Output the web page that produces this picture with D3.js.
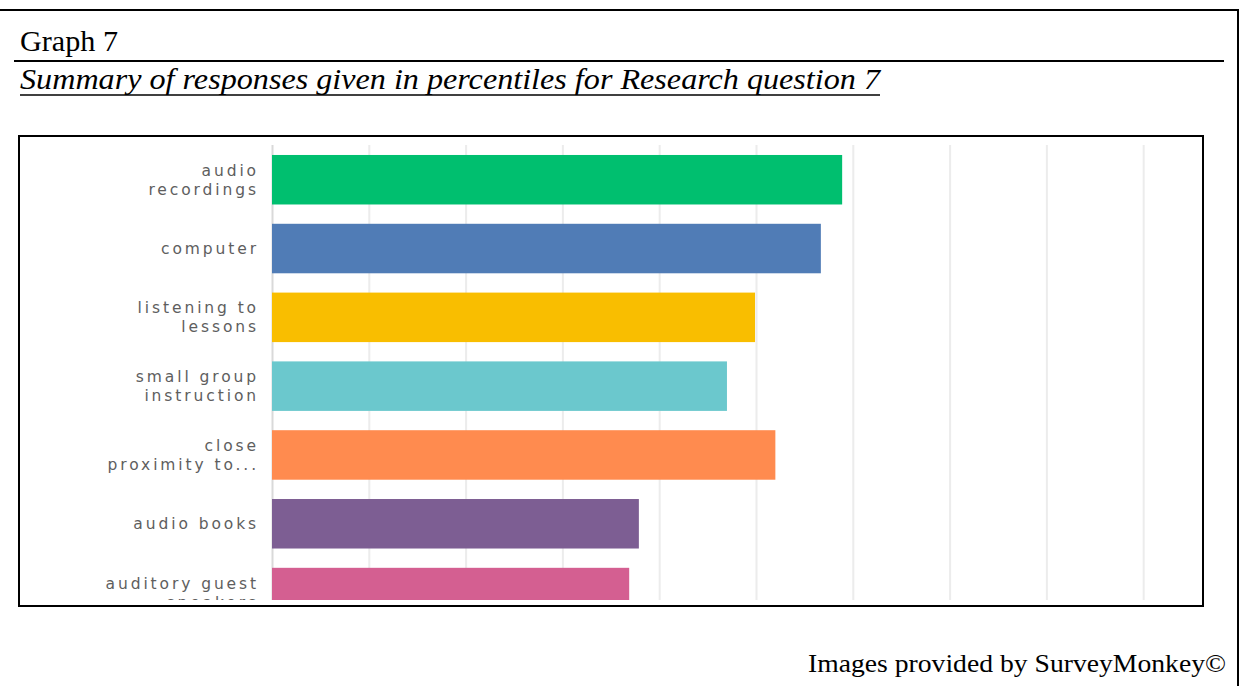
<!DOCTYPE html>
<html>
<head>
<meta charset="utf-8">
<script src="https://cdn.jsdelivr.net/npm/d3@7"></script>
<style>
  html, body { margin: 0; padding: 0; background: #fff; }
  svg { display: block; }
</style>
</head>
<body>
<svg id="chart" width="1243" height="686"></svg>
<script>
// ---- data ----
const categories = [
  ["audio", "recordings"],
  ["computer"],
  ["listening to", "lessons"],
  ["small group", "instruction"],
  ["close", "proximity to..."],
  ["audio books"],
  ["auditory guest", "speakers"]
];
const values = [58.9, 56.7, 49.9, 47.0, 52.0, 37.9, 36.9];
const colors = ["#00bf6f", "#507cb6", "#f9be00", "#6bc8cd", "#ff8b4f", "#7d5e93", "#d45f91"];
const xTicks = [0, 10, 20, 30, 40, 50, 60, 70, 80, 90, 100];

const graphLabel = "Graph 7";
const titleText = "Summary of responses given in percentiles for Research question 7";
const footerText = "Images provided by SurveyMonkey\u00A9";

const svg = d3.select("#chart");

// ---- outer document frame ----
svg.append("line").attr("x1", 0).attr("x2", 1239).attr("y1", 10).attr("y2", 10)
  .attr("stroke", "#000").attr("stroke-width", 2);
svg.append("line").attr("x1", 1238).attr("x2", 1238).attr("y1", 9).attr("y2", 686)
  .attr("stroke", "#000").attr("stroke-width", 2);

svg.append("text").attr("x", 20).attr("y", 51)
  .attr("font-family", "'Liberation Serif', 'Times New Roman', serif")
  .attr("font-size", 29).attr("fill", "#000")
  .attr("textLength", 98).attr("lengthAdjust", "spacingAndGlyphs")
  .text(graphLabel);
svg.append("line").attr("x1", 14).attr("x2", 1224).attr("y1", 61).attr("y2", 61)
  .attr("stroke", "#000").attr("stroke-width", 2);

svg.append("text").attr("x", 20).attr("y", 89)
  .attr("font-family", "'Liberation Serif', 'Times New Roman', serif")
  .attr("font-style", "italic")
  .attr("font-size", 29).attr("fill", "#000")
  .attr("textLength", 860).attr("lengthAdjust", "spacingAndGlyphs")
  .text(titleText);
svg.append("line").attr("x1", 20).attr("x2", 880).attr("y1", 95).attr("y2", 95)
  .attr("stroke", "#000").attr("stroke-width", 1.5);

svg.append("text").attr("x", 1226).attr("y", 672)
  .attr("text-anchor", "end")
  .attr("font-family", "'Liberation Serif', 'Times New Roman', serif")
  .attr("font-size", 25).attr("fill", "#000")
  .attr("textLength", 418).attr("lengthAdjust", "spacingAndGlyphs")
  .text(footerText);

// ---- chart box ----
const box = {x0: 19, y0: 136, x1: 1203, y1: 606};
svg.append("defs").append("clipPath").attr("id", "clip")
  .append("rect").attr("x", box.x0 + 1).attr("y", box.y0 + 1)
  .attr("width", box.x1 - box.x0 - 2).attr("height", 600 - box.y0 - 1);

const g = svg.append("g").attr("clip-path", "url(#clip)");

const x = d3.scaleLinear().domain([0, 100]).range([272, 1240]);
const idx = categories.map((d, i) => i);
const y = d3.scaleBand().domain(idx).range([145, 627.3])
  .paddingInner(0.2805).paddingOuter(0.145);

// gridlines via axis
const grid = g.append("g").attr("transform", "translate(0,145)")
  .call(d3.axisBottom(x).tickValues(xTicks).tickSize(600 - 145).tickFormat(""));
grid.select(".domain").remove();
grid.selectAll(".tick line").attr("stroke", "#ececec").attr("stroke-width", 2);
grid.selectAll(".tick").filter(d => d === 0).select("line")
  .attr("stroke", "#d9d9d9").attr("stroke-width", 2);

// bars
g.selectAll("rect.bar").data(values).enter().append("rect")
  .attr("class", "bar")
  .attr("x", x(0))
  .attr("y", (d, i) => y(i))
  .attr("width", d => x(d) - x(0))
  .attr("height", y.bandwidth())
  .attr("fill", (d, i) => colors[i]);

// category labels: one text element per line
const lineGap = 19;
categories.forEach((lines, i) => {
  const cy = y(i) + y.bandwidth() / 2;
  const n = lines.length;
  lines.forEach((ln, j) => {
    g.append("text")
      .attr("class", "cat")
      .attr("text-anchor", "end")
      .attr("font-family", "'DejaVu Sans', 'Open Sans', sans-serif")
      .attr("font-size", 15.5)
      .attr("letter-spacing", "2.9px")
      .attr("fill", "#5e5e5e")
      .attr("x", 259)
      .attr("y", cy + 5.5 + (j - (n - 1) / 2) * lineGap)
      .text(ln);
  });
});

// box border
svg.append("rect").attr("x", box.x0).attr("y", box.y0)
  .attr("width", box.x1 - box.x0).attr("height", box.y1 - box.y0)
  .attr("fill", "none").attr("stroke", "#000").attr("stroke-width", 2);
</script>
</body>
</html>
